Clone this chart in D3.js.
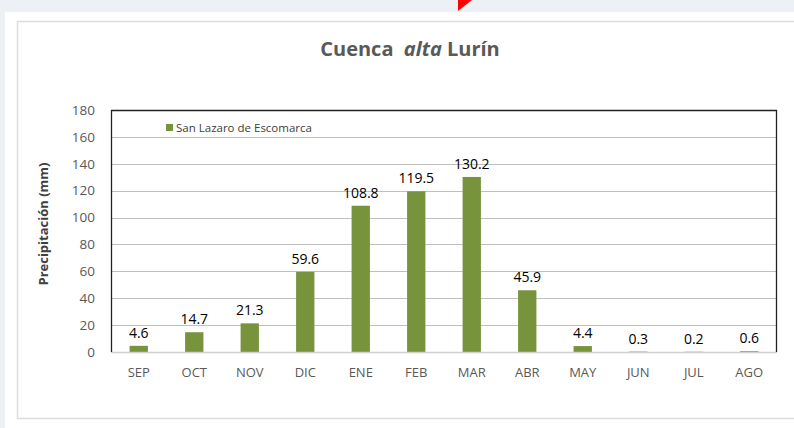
<!DOCTYPE html>
<html>
<head>
<meta charset="utf-8">
<script src="https://cdn.jsdelivr.net/npm/d3@7"></script>
<style>
  body { margin: 0; background: #edf0f5; }
  svg { display: block; font-family: "Open Sans", "Noto Sans", sans-serif; }
</style>
</head>
<body>
<div id="chart-area"></div>
<script>
const months = ["SEP", "OCT", "NOV", "DIC", "ENE", "FEB", "MAR", "ABR", "MAY", "JUN", "JUL", "AGO"]
const rain = [4.6, 14.7, 21.3, 59.6, 108.8, 119.5, 130.2, 45.9, 4.4, 0.3, 0.2, 0.6]
const yTicks = [0, 20, 40, 60, 80, 100, 120, 140, 160, 180]
const seriesName = "San Lazaro de Escomarca"

const W = 794, H = 428
const MARGIN = { LEFT: 111, RIGHT: 17, TOP: 110, BOTTOM: 76 }
const width = W - MARGIN.LEFT - MARGIN.RIGHT
const height = H - MARGIN.TOP - MARGIN.BOTTOM

const svg = d3.select("#chart-area").append("svg")
  .attr("width", W)
  .attr("height", H)

// page background, white panel and chart frame
svg.append("rect").attr("width", W).attr("height", H).attr("fill", "#edf0f5")
svg.append("rect").attr("x", 5).attr("y", 12).attr("width", W - 5).attr("height", H - 12).attr("fill", "#fff")
svg.append("path")
  .attr("d", `M${W},21.5 H17.5 V418.5 H${W}`)
  .attr("fill", "none").attr("stroke", "#dcdcdc").attr("stroke-width", 1.5)
svg.append("path").attr("d", "M458,0 H472 L458,11 Z").attr("fill", "#ff0000")

// title
const title = svg.append("text")
  .attr("x", 410).attr("y", 56)
  .attr("text-anchor", "middle")
  .style("white-space", "pre")
  .attr("font-size", 20).attr("font-weight", "bold").attr("fill", "#595959")
title.append("tspan").text("Cuenca  ")
title.append("tspan").attr("font-style", "italic").text("alta")
title.append("tspan").text(" Lurín")

const g = svg.append("g")
  .attr("transform", `translate(${MARGIN.LEFT}, ${MARGIN.TOP})`)

const x = d3.scaleBand().domain(months).range([0, width]).paddingInner(0.67).paddingOuter(0.335)
const y = d3.scaleLinear().domain([0, 180]).range([height, 0])

// gridlines
g.selectAll(".grid").data(yTicks.slice(1, -1)).enter().append("line")
  .attr("x1", 0).attr("x2", width)
  .attr("y1", d => Math.round(y(d)) + 0.5).attr("y2", d => Math.round(y(d)) + 0.5)
  .attr("stroke", "#bfbfbf").attr("stroke-width", 1.2)

// bars
g.selectAll(".bar").data(rain).enter().append("rect")
  .attr("x", (d, i) => x(months[i]))
  .attr("width", x.bandwidth())
  .attr("y", d => y(d))
  .attr("height", d => height - y(d))
  .attr("fill", "#77933c")

// value labels
g.selectAll(".val").data(rain).enter().append("text")
  .attr("x", (d, i) => x(months[i]) + x.bandwidth() / 2)
  .attr("y", d => y(d) - 8)
  .attr("text-anchor", "middle")
  .attr("font-size", 14).attr("fill", "#000")
  .text(d => d.toFixed(1))

// baseline and frame
g.append("line").attr("x1", 0).attr("x2", width).attr("y1", height + 0.5).attr("y2", height + 0.5)
  .attr("stroke", "#d0d0d0").attr("stroke-width", 1.5)
g.append("path")
  .attr("d", `M0.5,${height} V0.5 H${width - 0.5} V${height}`)
  .attr("fill", "none").attr("stroke", "#222").attr("stroke-width", 1.3)

// y axis labels
const yAxis = g.append("g").call(d3.axisLeft(y).tickValues(yTicks).tickSize(0).tickPadding(16))
yAxis.select(".domain").remove()
yAxis.selectAll("text").attr("font-size", 13.5).attr("fill", "#595959")
  .attr("font-family", "'Open Sans', sans-serif")

// x axis labels
const xAxis = g.append("g").attr("transform", `translate(0, ${height})`)
  .call(d3.axisBottom(x).tickSize(0).tickPadding(16))
xAxis.select(".domain").remove()
xAxis.selectAll("text").attr("font-size", 13).attr("fill", "#595959")
  .attr("font-family", "'Open Sans', sans-serif")

// y axis title
svg.append("text")
  .attr("transform", `translate(48, 224) rotate(-90)`)
  .attr("text-anchor", "middle")
  .attr("font-size", 13).attr("font-weight", "bold").attr("fill", "#404040")
  .text("Precipitación (mm)")

// legend
svg.append("rect").attr("x", 166).attr("y", 124).attr("width", 7).attr("height", 7).attr("fill", "#77933c")
svg.append("text").attr("x", 176).attr("y", 131.5)
  .attr("font-size", 11.5).attr("fill", "#404040")
  .text(seriesName)
</script>
</body>
</html>
